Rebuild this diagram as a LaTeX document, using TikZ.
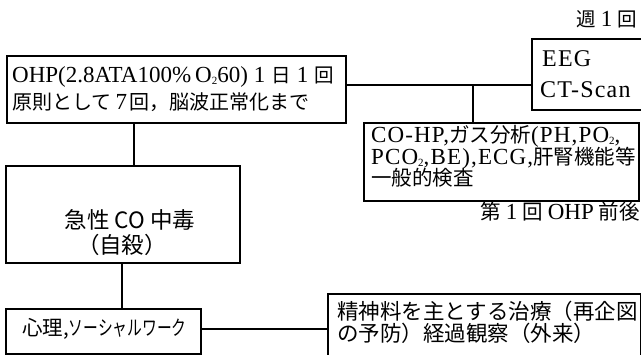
\documentclass[tikz,border=0pt]{standalone}
\usepackage{fontspec}
\usepackage{graphicx}
\setmainfont{Liberation Serif}
\newfontfamily\latw[LetterSpace=5]{Liberation Serif}
\newfontfamily\cjk{Noto Sans CJK JP}
\newcommand\J[1]{{\cjk\fontsize{19.5}{24}\selectfont #1}}
\newcommand\JA[1]{{\cjk\fontsize{20}{24}\selectfont #1}}
\newcommand\JB[1]{{\cjk\fontsize{20.5}{25}\selectfont #1}}
\newcommand\JL[1]{{\cjk\fontsize{21.5}{25}\selectfont #1}}
\newcommand\JX[1]{{\cjk\fontsize{22.5}{26}\selectfont #1}}
\newcommand\subtwo{\raisebox{-1.5pt}{\fontsize{11}{11}\selectfont 2}}
\tikzset{
  box/.style={draw, line width=1.6pt, rectangle, inner sep=0pt, anchor=north west},
  txt/.style={inner sep=0pt, anchor=base west, font=\fontsize{23}{27}\selectfont},
  rtxt/.style={inner sep=0pt, anchor=base east, font=\fontsize{23}{27}\selectfont},
  ctxt/.style={inner sep=0pt, anchor=base, font=\fontsize{23}{27}\selectfont},
  wtxt/.style={inner sep=0pt, anchor=base west, font=\latw\fontsize{23}{26}\selectfont},
  link/.style={line width=1.6pt}
}
\begin{document}
\begin{tikzpicture}[x=1pt,y=-1pt]
\useasboundingbox (0,0) rectangle (641,355);
\clip (0,0) rectangle (641,355);
% boxes
\node[box, minimum width=339pt, minimum height=67pt] (ohp) at (6,55) {};
\node[box, minimum width=234pt, minimum height=97pt] (acute) at (5,165) {};
\node[box, minimum width=195pt, minimum height=45pt] (psy) at (5,308) {};
\node[box, minimum width=130pt, minimum height=71pt] (eeg) at (531,38) {};
\node[box, minimum width=275pt, minimum height=78pt] (cohp) at (363,122) {};
\node[box, minimum width=313pt, minimum height=90pt] (sei) at (327,293) {};
% helper coordinates
\coordinate (xa) at (134,0);
\coordinate (xb) at (122,0);
\coordinate (ya) at (0,85);
\coordinate (xc) at (473,0);
\coordinate (yb) at (0,329);
\coordinate (jn) at (xc |- ya);
% connectors
\draw[link] (ohp.south -| xa) -- (acute.north -| xa);
\draw[link] (acute.south -| xb) -- (psy.north -| xb);
\draw[link] (ohp.east |- ya) -- (eeg.west |- ya);
\draw[link] (jn) -- (cohp.north -| jn);
\draw[link] (psy.east |- yb) -- (sei.west |- yb);
% texts
\node[rtxt] (week) at (637,27) {\J{週}\hspace{5pt}1\hspace{5pt}\J{回}};
\node[txt] (ohp1) at (12,83) {OHP(2.8ATA100\%\hspace{4pt}O\subtwo60)\hspace{6pt}1\hspace{6pt}\J{日}\hspace{6pt}1\hspace{6pt}\J{回}};
\node[txt] (ohp2) at (12,110) {\JA{原則として}\hspace{4pt}7\hspace{2pt}\JA{回，脳波正常化まで}};
\node[wtxt, font=\latw\fontsize{24}{28}\selectfont] (eeg1) at (542,67) {EEG};
\node[wtxt, font=\latw\fontsize{24}{28}\selectfont] (eeg2) at (540,98) {CT-Scan};
\node[wtxt] (co1) at (371,143) {CO-HP,\JB{ガス分析}(PH,PO\subtwo,};
\node[wtxt] (co2) at (371,165) {PCO\subtwo,BE),ECG,\JB{肝腎機能等}};
\node[txt] (co3) at (371,186) {\JB{一般的検査}};
\node[rtxt] (first) at (640,220) {\JB{第}\hspace{5pt}1\hspace{5pt}\JB{回}\hspace{5pt}OHP\hspace{5pt}\JB{前後}};
\node[ctxt] (ac1) at (130,229) {\JX{急性 CO 中毒}};
\node[ctxt] (ac2) at (122,254) {\JX{（自殺）}};
\node[txt] (psyt) at (22,336) {\JB{心理,}\scalebox{0.72}[1]{\JB{ソーシャルワーク}}};
\node[txt] (sei1) at (337,320) {\JL{精神料を主とする治療（再企図}};
\node[txt] (sei2) at (337,342) {\JL{の予防）経過観察（外来）}};
\end{tikzpicture}
\end{document}
